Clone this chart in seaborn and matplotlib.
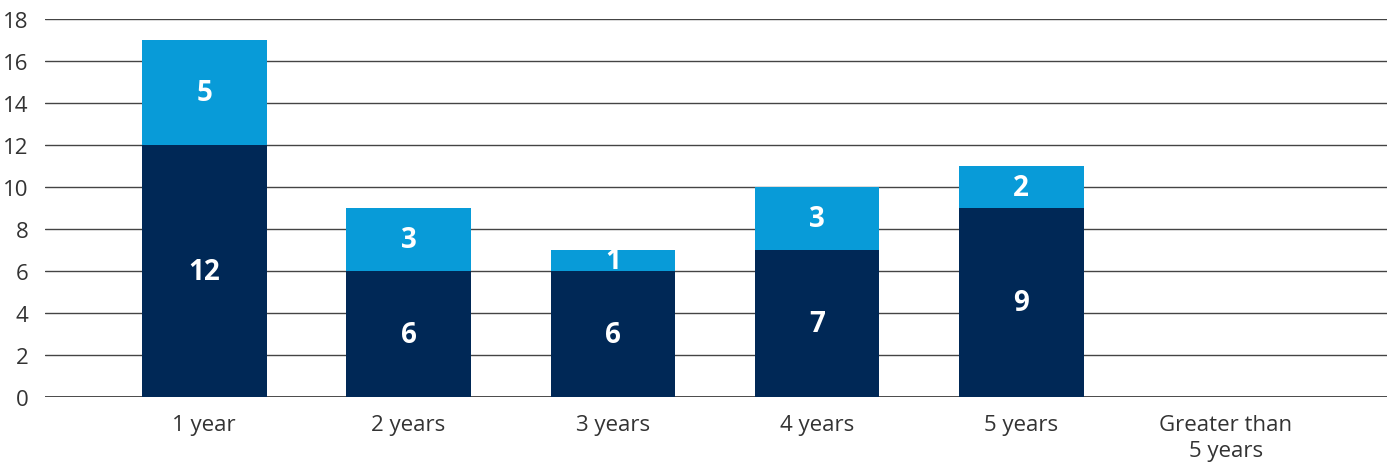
import matplotlib
matplotlib.use("Agg")
import matplotlib.pyplot as plt
import seaborn as sns
import pandas as pd

categories = ["1 year", "2 years", "3 years", "4 years", "5 years", "Greater than\n5 years"]
bottom_vals = [12, 6, 6, 7, 9, 0]
top_vals = [5, 3, 1, 3, 2, 0]

dark = "#002856"
light = "#089BD8"

sns.set_theme(style="white")
plt.rcParams['font.family'] = ['Open Sans', 'DejaVu Sans']

df = pd.DataFrame({"cat": categories, "bottom": bottom_vals, "top": top_vals})
df["total"] = df["bottom"] + df["top"]

fig = plt.figure(figsize=(13.87, 4.64), dpi=100)
ax = fig.add_axes([0.0324, 0.1422, 0.9676, 0.8147])

sns.barplot(data=df, x="cat", y="total", color=light, saturation=1, width=0.61,
            linewidth=0, edgecolor="none", ax=ax, zorder=3)
sns.barplot(data=df, x="cat", y="bottom", color=dark, saturation=1, width=0.61,
            linewidth=0, edgecolor="none", ax=ax, zorder=3)

for i, (b, t) in enumerate(zip(bottom_vals, top_vals)):
    if b > 0:
        ax.text(i, b / 2, str(b), ha="center", va="center", color="white",
                fontsize=20, fontweight="bold", zorder=5)
    if t > 0:
        ax.text(i, b + t / 2, str(t), ha="center", va="center", color="white",
                fontsize=20, fontweight="bold", zorder=5)

ax.set_ylim(0, 18)
ax.set_xlim(-0.78, 5.79)
ax.set_yticks(range(0, 19, 2))
ax.yaxis.grid(True, color="#444444", linewidth=1.0, zorder=0)
ax.xaxis.grid(False)
for s in ax.spines.values():
    s.set_visible(False)
ax.axhline(0, color="#333333", linewidth=1.2, zorder=1)
ax.set_xlabel("")
ax.set_ylabel("")
ax.tick_params(axis="both", length=0, labelsize=16, labelcolor="#333333")
ax.tick_params(axis="y", pad=12)
ax.tick_params(axis="x", pad=12)
for lbl in ax.get_xticklabels():
    lbl.set_linespacing(1.35)

fig.savefig("out.png", dpi=100)
